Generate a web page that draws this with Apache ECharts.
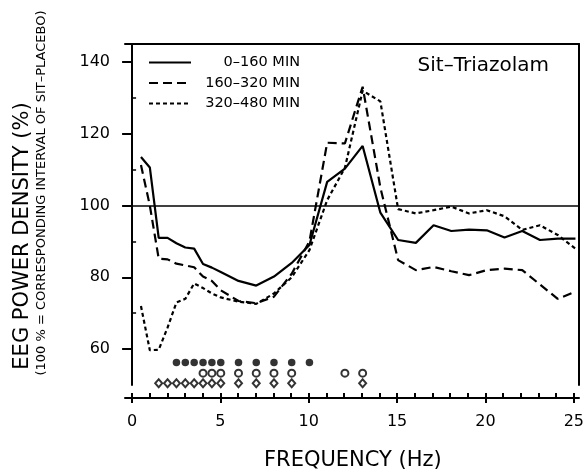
<!DOCTYPE html>
<html>
<head>
<meta charset="utf-8">
<script src="https://cdn.jsdelivr.net/npm/echarts@6/dist/echarts.min.js"></script>
<style>
  html, body { margin: 0; padding: 0; background: #fff; }
  #main { width: 587px; height: 476px; }
</style>
</head>
<body>
<div id="main"></div>
<script>
// frequency bins (Hz)
var freq = [0.5, 1, 1.5, 2, 2.5, 3, 3.5, 4, 4.5, 5, 6, 7, 8, 9, 10, 11, 12, 13, 14, 15, 16, 17, 18, 19, 20, 21, 22, 23, 24, 25];

// EEG power density, % of sit-placebo
var min0_160 = [113.5, 110.6, 91, 91, 89.5, 88.3, 88, 83.7, 82.7, 81.5, 79, 77.7, 80.2, 84, 89, 106.6, 110.3, 116.6, 98, 90.4, 89.6, 94.5, 92.9, 93.3, 93.1, 91.1, 92.9, 90.4, 90.8, 90.8];
var min160_320 = [111.3, 100, 85.2, 85, 83.8, 83.3, 82.8, 80.2, 79, 76.4, 73.4, 72.8, 74.6, 81, 90, 117.5, 117.3, 133.1, 105, 84.8, 82, 82.9, 81.7, 80.6, 82, 82.4, 82, 78, 74, 76];
var min320_480 = [72, 59.7, 59.8, 66, 73, 74, 78.3, 77, 75.5, 74.4, 73.2, 72.6, 75.5, 80, 87.6, 101.5, 110.5, 132, 129, 99, 97.8, 98.7, 99.7, 97.8, 98.7, 97, 93.2, 94.5, 91.8, 88];

// bins with significant differences (one row per symbol)
var sigFilled = [2.5, 3, 3.5, 4, 4.5, 5, 6, 7, 8, 9, 10];
var sigOpen = [4, 4.5, 5, 6, 7, 8, 9, 12, 13];
var sigDiamond = [1.5, 2, 2.5, 3, 3.5, 4, 4.5, 5, 6, 7, 8, 9, 13];
var sigRows = [56.3, 53.3, 50.5];

var yTicks = [60, 80, 100, 120, 140];
var yMinorTicks = [70, 90, 110, 130];

var FONT = "DejaVu Sans";

function pairs(xs, ys) {
	return xs.map(function (x, i) { return [x, ys[i]]; });
}
function row(xs, y) {
	return xs.map(function (x) { return [x, y]; });
}

var chart = echarts.init(document.getElementById("main"));

var option = {
	animation: false,
	backgroundColor: "#fff",
	textStyle: { fontFamily: FONT, color: "#000" },
	title: {
		text: "Sit\u2013Triazolam",
		right: 33,
		top: 51,
		textStyle: { fontFamily: FONT, fontSize: 20, fontWeight: "normal", color: "#000" }
	},
	legend: {
		orient: "vertical",
		left: 143,
		top: 50,
		itemWidth: 42,
		itemHeight: 14,
		itemGap: 5.5,
		itemStyle: { opacity: 0 },
		data: ["0\u2013160 MIN", "160\u2013320 MIN", "320\u2013480 MIN"],
		formatter: function (name) { return "{t|" + name + "}"; },
		textStyle: {
			rich: {
				t: { width: 104, align: "right", fontSize: 14.5, lineHeight: 14, fontFamily: FONT, color: "#000" }
			}
		}
	},
	grid: [
		{ left: 125, width: 454, top: 44, height: 341 },
		{ left: 132, width: 443, top: 44, height: 341 }
	],
	xAxis: [
		{
			gridIndex: 0, type: "value", min: -0.4, max: 25.2, position: "top",
			axisLine: { show: true, lineStyle: { color: "#000", width: 2 } },
			axisTick: { show: false }, axisLabel: { show: false }, splitLine: { show: false }
		},
		{
			gridIndex: 1, type: "value", min: 0, max: 25, interval: 5, position: "bottom", offset: 13,
			axisLine: { show: false },
			axisTick: { show: true, length: 10, lineStyle: { color: "#000", width: 2 } },
			minorTick: { show: true, splitNumber: 5, length: 5, lineStyle: { color: "#000", width: 2 } },
			axisLabel: { fontSize: 16, fontFamily: FONT, color: "#000", margin: 21 },
			splitLine: { show: false },
			name: "FREQUENCY (Hz)", nameLocation: "middle", nameGap: 57,
			nameTextStyle: { fontSize: 21, fontFamily: FONT, color: "#000" }
		},
		{
			gridIndex: 0, type: "value", min: -0.4, max: 25.2, position: "bottom", offset: 13,
			axisLine: { show: true, lineStyle: { color: "#000", width: 2 } },
			axisTick: { show: false }, axisLabel: { show: false }, splitLine: { show: false }
		}
	],
	yAxis: [
		{
			gridIndex: 0, type: "value", min: 50, max: 145, position: "left",
			axisLine: { show: true, lineStyle: { color: "#000", width: 2 } },
			axisTick: { show: true, length: 10, customValues: yTicks, lineStyle: { color: "#000", width: 2 } },
			axisLabel: { customValues: yTicks, fontSize: 16, fontFamily: FONT, color: "#000", margin: 15 },
			splitLine: { show: false }
		},
		{
			gridIndex: 0, type: "value", min: 50, max: 145, position: "left",
			axisLine: { show: false },
			axisTick: { show: true, inside: true, length: 4, customValues: yMinorTicks, lineStyle: { color: "#000", width: 1.5 } },
			axisLabel: { show: false }, splitLine: { show: false }
		},
		{
			gridIndex: 0, type: "value", min: 50, max: 145, position: "right",
			axisLine: { show: true, lineStyle: { color: "#000", width: 2 } },
			axisTick: { show: false }, axisLabel: { show: false }, splitLine: { show: false }
		},
		{
			gridIndex: 1, type: "value", min: 50, max: 145, show: false
		}
	],
	graphic: [
		{
			type: "text", x: 23, y: 236, rotation: Math.PI / 2,
			style: { text: "EEG POWER DENSITY (%)", fontSize: 21, fontFamily: FONT, fill: "#000", align: "center", verticalAlign: "middle" }
		},
		{
			type: "text", x: 42, y: 193, rotation: Math.PI / 2,
			style: { text: "(100 % = CORRESPONDING INTERVAL OF SIT\u2013PLACEBO)", fontSize: 13, fontFamily: FONT, fill: "#000", align: "center", verticalAlign: "middle" }
		}
	],
	series: [
		{
			name: "0\u2013160 MIN", type: "line", xAxisIndex: 0, yAxisIndex: 0,
			data: pairs(freq, min0_160), symbol: "none",
			lineStyle: { color: "#000", width: 2.2, type: "solid" },
			itemStyle: { color: "#000" },
			markLine: {
				silent: true, symbol: "none", label: { show: false },
				lineStyle: { color: "#000", width: 1.5, type: "solid" },
				data: [{ yAxis: 100 }]
			}
		},
		{
			name: "160\u2013320 MIN", type: "line", xAxisIndex: 0, yAxisIndex: 0,
			data: pairs(freq, min160_320), symbol: "none",
			lineStyle: { color: "#000", width: 2.2, type: [9, 5] },
			itemStyle: { color: "#000" }
		},
		{
			name: "320\u2013480 MIN", type: "line", xAxisIndex: 0, yAxisIndex: 0,
			data: pairs(freq, min320_480), symbol: "none",
			lineStyle: { color: "#000", width: 2.2, type: [4, 3] },
			itemStyle: { color: "#000" }
		},
		{
			name: "sig1", type: "scatter", xAxisIndex: 0, yAxisIndex: 0, clip: false,
			data: row(sigFilled, sigRows[0]), symbol: "circle", symbolSize: 7.5,
			itemStyle: { color: "#000" }
		},
		{
			name: "sig2", type: "scatter", xAxisIndex: 0, yAxisIndex: 0, clip: false,
			data: row(sigOpen, sigRows[1]), symbol: "emptyCircle", symbolSize: 7,
			itemStyle: { color: "#000", borderWidth: 1.6 }
		},
		{
			name: "sig3", type: "scatter", xAxisIndex: 0, yAxisIndex: 0, clip: false,
			data: row(sigDiamond, sigRows[2]), symbol: "emptyDiamond", symbolSize: [7, 8],
			itemStyle: { color: "#000", borderWidth: 1.4 }
		}
	]
};

chart.setOption(option);
</script>
</body>
</html>
